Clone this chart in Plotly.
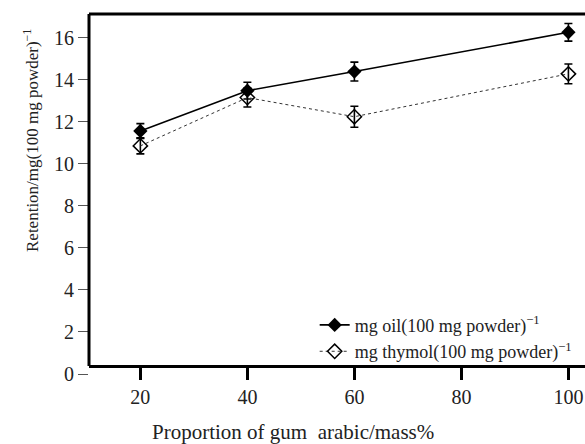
import plotly.graph_objects as go

x_vals = [20, 40, 60, 100]
oil = [11.57, 13.49, 14.40, 16.27]
oil_err = [0.35, 0.40, 0.45, 0.42]
thymol = [10.86, 13.16, 12.25, 14.29]
thymol_err = [0.38, 0.45, 0.50, 0.47]
x_ticks = [20, 40, 60, 80, 100]
y_ticks = [0, 2, 4, 6, 8, 10, 12, 14, 16]

W, H = 585, 444
ML, MR, MT, MB = 89, 0, 14, 70
plot_h = H - MT - MB
font = "Liberation Serif, Times New Roman, serif"

fig = go.Figure()
fig.add_trace(go.Scatter(
    x=x_vals, y=oil, mode="lines+markers",
    name="mg oil(100 mg powder)<sup>−1</sup>",
    line=dict(color="black", width=1.6),
    marker=dict(symbol="diamond", size=11, color="black"),
    error_y=dict(type="data", array=oil_err, color="black", thickness=1.6, width=4),
))
fig.add_trace(go.Scatter(
    x=x_vals, y=thymol, mode="lines+markers",
    name="mg thymol(100 mg powder)<sup>−1</sup>",
    line=dict(color="#333333", width=1, dash="dot"),
    marker=dict(symbol="diamond-open", size=11, color="black", line=dict(width=1.5)),
    error_y=dict(type="data", array=thymol_err, color="black", thickness=1.6, width=4),
))

axis_y0 = 0.38
fig.update_layout(
    width=W, height=H,
    margin=dict(l=ML, r=MR, t=MT, b=MB),
    paper_bgcolor="white", plot_bgcolor="white",
    font=dict(family=font, color="#222222", size=20),
    showlegend=True,
    legend=dict(x=0.455, y=0.012, xanchor="left", yanchor="bottom",
                bgcolor="rgba(0,0,0,0)", font=dict(size=18, family=font, color="#222"),
                itemwidth=30, tracegroupgap=0),
    xaxis=dict(range=[10.4, 103.1], tickvals=x_ticks, showgrid=False, zeroline=False,
               showline=True, linecolor="black", linewidth=2.5,
               ticks="outside", ticklen=12, tickwidth=2.5, tickcolor="black",
               anchor="free", position=axis_y0 / 17.14,
               tickfont=dict(size=20, family=font, color="#222")),
    yaxis=dict(range=[0, 17.14], tickvals=y_ticks, showgrid=False, zeroline=False,
               showline=False, ticks="outside", ticklen=10, tickwidth=1, tickcolor="#555",
               tickfont=dict(size=20, family=font, color="#222")),
    shapes=[
        dict(type="line", xref="paper", yref="y", x0=0, x1=0, y0=axis_y0, y1=17.14,
             line=dict(color="black", width=3)),
        dict(type="line", xref="paper", yref="paper", x0=0, x1=1, y0=1, y1=1,
             line=dict(color="black", width=3)),
    ],
    annotations=[
        dict(text="Proportion of gum  arabic/mass%", xref="paper", yref="paper",
             x=(293 - ML) / (W - ML), y=-(432 - (H - MB)) / plot_h,
             xanchor="center", yanchor="middle", showarrow=False,
             font=dict(size=21, family=font, color="#222")),
        dict(text="Retention/mg(100 mg powder)<sup>−1</sup>", xref="paper", yref="paper",
             x=(31 - ML) / (W - ML), y=(374 - 141) / plot_h,
             xanchor="center", yanchor="middle", textangle=-90, showarrow=False,
             font=dict(size=17, family=font, color="#222")),
    ],
)
fig.write_html("out.html")
